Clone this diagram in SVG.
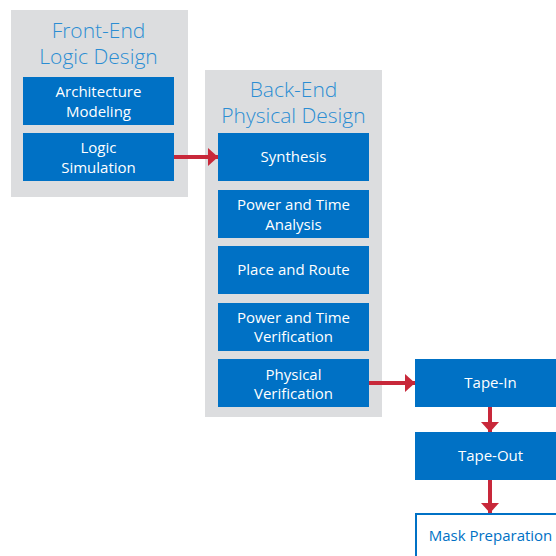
<svg xmlns="http://www.w3.org/2000/svg" width="556" height="556" viewBox="0 0 556 556">
<defs>
<style>
.panel{fill:#dcdddf}
.box{fill:#0071c5}
.outline{fill:#ffffff;stroke:#0071c5;stroke-width:2}
.t{font-family:"Open Sans","Noto Sans",sans-serif;font-size:15px;fill:#ffffff;text-anchor:middle}
.tb{font-family:"Open Sans","Noto Sans",sans-serif;font-size:15px;fill:#0071c5;text-anchor:middle}
.title{font-family:"Open Sans","Noto Sans",sans-serif;font-weight:300;font-size:21px;fill:#2b8dd3;text-anchor:middle}
.conn{stroke:#c8283a;stroke-width:4;fill:none}
</style>
<marker id="ah" markerWidth="10" markerHeight="18" refX="10" refY="9" orient="auto" markerUnits="userSpaceOnUse">
<path d="M0,0 L10,9 L0,18 Z" fill="#c8283a"/>
</marker>
</defs>
<rect width="556" height="556" fill="#ffffff"/>
<g id="front-end">
<rect class="panel" x="11" y="10" width="177" height="187"/>
<text class="title" x="98.5" y="38">Front-End</text>
<text class="title" x="98.5" y="64">Logic Design</text>
</g>
<g id="architecture-modeling">
<rect class="box" x="23" y="77" width="151" height="48"/>
<text class="t" x="98.5" y="97">Architecture</text>
<text class="t" x="98.5" y="117">Modeling</text>
</g>
<g id="logic-simulation">
<rect class="box" x="23" y="133" width="151" height="48"/>
<text class="t" x="98.5" y="153">Logic</text>
<text class="t" x="98.5" y="173">Simulation</text>
</g>
<g id="back-end">
<rect class="panel" x="205" y="70" width="177" height="347"/>
<text class="title" x="293.5" y="97">Back-End</text>
<text class="title" x="293.5" y="123">Physical Design</text>
</g>
<g id="synthesis">
<rect class="box" x="218" y="133" width="151" height="48"/>
<text class="t" x="293.5" y="162">Synthesis</text>
</g>
<g id="power-time-analysis">
<rect class="box" x="218" y="190" width="151" height="48"/>
<text class="t" x="293.5" y="210">Power and Time</text>
<text class="t" x="293.5" y="230">Analysis</text>
</g>
<g id="place-route">
<rect class="box" x="218" y="246" width="151" height="48"/>
<text class="t" x="293.5" y="275">Place and Route</text>
</g>
<g id="power-time-verification">
<rect class="box" x="218" y="303" width="151" height="48"/>
<text class="t" x="293.5" y="323">Power and Time</text>
<text class="t" x="293.5" y="342">Verification</text>
</g>
<g id="physical-verification">
<rect class="box" x="218" y="359" width="151" height="48"/>
<text class="t" x="293.5" y="380">Physical</text>
<text class="t" x="293.5" y="399">Verification</text>
</g>
<g id="tape-in">
<rect class="box" x="415" y="359" width="151" height="48"/>
<text class="t" x="490.5" y="388">Tape-In</text>
</g>
<g id="tape-out">
<rect class="box" x="415" y="432" width="151" height="48"/>
<text class="t" x="490.5" y="461">Tape-Out</text>
</g>
<g id="mask-preparation">
<rect class="outline" x="416" y="514" width="151" height="48"/>
<text class="tb" x="490.5" y="541">Mask Preparation</text>
</g>
<g id="connectors">
<line class="conn" x1="174" y1="157" x2="218" y2="157" marker-end="url(#ah)"/>
<line class="conn" x1="369" y1="383" x2="415" y2="383" marker-end="url(#ah)"/>
<line class="conn" x1="490" y1="407" x2="490" y2="432" marker-end="url(#ah)"/>
<line class="conn" x1="490" y1="480" x2="490" y2="513" marker-end="url(#ah)"/>
</g>
</svg>
